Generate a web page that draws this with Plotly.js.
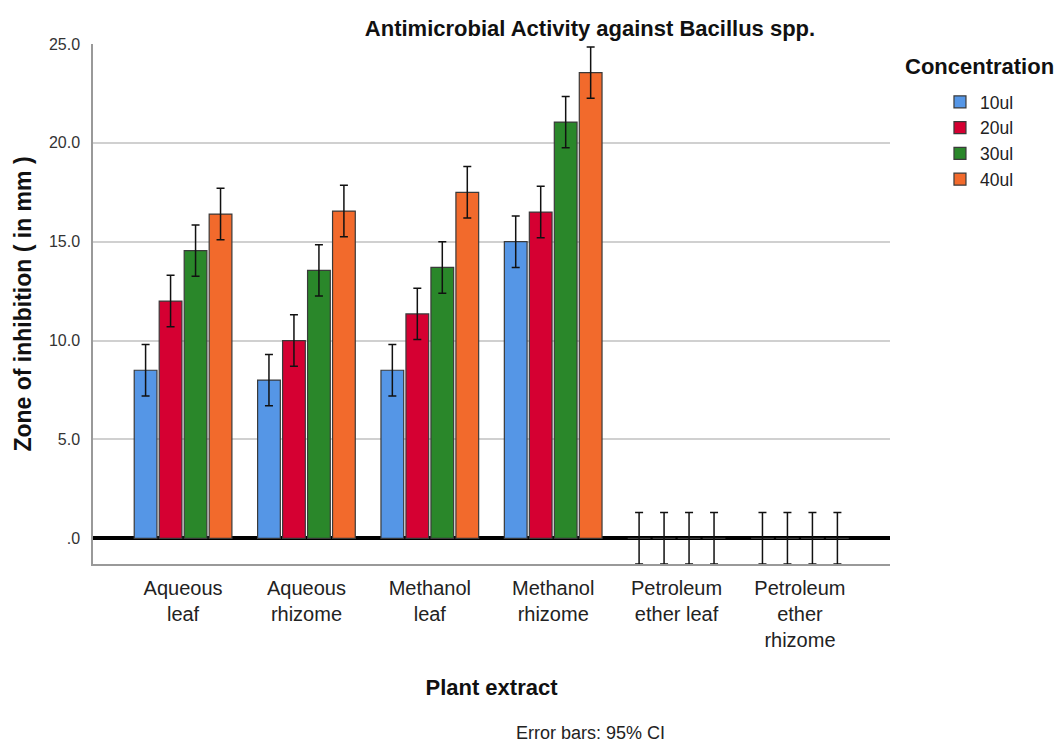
<!DOCTYPE html>
<html>
<head>
<meta charset="utf-8">
<script src="https://cdn.plot.ly/plotly-3.0.1.min.js"></script>
<style>html,body{margin:0;padding:0;background:#fff;}#chart{width:1059px;height:742px;}</style>
</head>
<body>
<div id="chart"></div>
<script>
// ---- data ----
const categories = ["Aqueous<br>leaf", "Aqueous<br>rhizome", "Methanol<br>leaf", "Methanol<br>rhizome", "Petroleum<br>ether leaf", "Petroleum<br>ether<br>rhizome"];
const seriesNames = ["10ul", "20ul", "30ul", "40ul"];
const values10 = [8.5, 8.0, 8.5, 15.0, 0, 0];
const values20 = [12.0, 10.0, 11.35, 16.5, 0, 0];
const values30 = [14.55, 13.55, 13.7, 21.05, 0, 0];
const values40 = [16.4, 16.55, 17.5, 23.55, 0, 0];
const ci10 = [1.3, 1.3, 1.3, 1.3, 1.3, 1.3];
const ci20 = [1.3, 1.3, 1.3, 1.3, 1.3, 1.3];
const ci30 = [1.3, 1.3, 1.3, 1.3, 1.3, 1.3];
const ci40 = [1.3, 1.3, 1.3, 1.3, 1.3, 1.3];
const yTickVals = [0, 5, 10, 15, 20, 25];
const yTickText = [".0", "5.0", "10.0", "15.0", "20.0", "25.0"];

const colors = ["#5596E6", "#D50032", "#2A872A", "#F26A2C"];
const allValues = [values10, values20, values30, values40];
const allCI = [ci10, ci20, ci30, ci40];

const FONT = "Liberation Sans, Arial, sans-serif";

const traces = seriesNames.map((name, i) => ({
  type: "bar",
  name: name,
  x: categories,
  y: allValues[i],
  marker: { color: colors[i], line: { color: "#3a3a3a", width: 1.2 } },
  error_y: { type: "data", array: allCI[i], visible: true, color: "#111", thickness: 1.5, width: 4 },
  hoverinfo: "x+y+name"
}));

const layout = {
  width: 1059,
  height: 742,
  margin: { l: 93, r: 169, t: 44, b: 178 },
  paper_bgcolor: "#fff",
  plot_bgcolor: "#fff",
  font: { family: FONT, color: "#222" },
  barmode: "group",
  bargap: 0.19,
  bargroupgap: 0.09,
  title: {
    text: "<b>Antimicrobial Activity against Bacillus spp.</b>",
    font: { family: FONT, size: 22, color: "#111" },
    xref: "paper", x: 0.6236, xanchor: "center",
    yref: "container", y: 0.962, yanchor: "middle"
  },
  xaxis: {
    type: "category",
    range: [-0.73, 5.73],
    showgrid: false,
    showline: true, linecolor: "#999", linewidth: 1.5,
    ticks: "outside", ticklen: 0, tickcolor: "rgba(0,0,0,0)",
    ticklabelstandoff: 5,
    tickfont: { family: FONT, size: 20, color: "#222" },
    title: { text: "<b>Plant extract</b>", font: { family: FONT, size: 22, color: "#111" }, standoff: 30 },
    fixedrange: true
  },
  yaxis: {
    range: [-1.3, 25],
    tickvals: yTickVals,
    ticktext: yTickText,
    showgrid: true, gridcolor: "#d0d0d0", gridwidth: 1.5,
    zeroline: true, zerolinecolor: "#000", zerolinewidth: 4,
    showline: true, linecolor: "#999", linewidth: 1.5,
    ticks: "outside", ticklen: 0, tickcolor: "rgba(0,0,0,0)",
    ticklabelstandoff: 8,
    tickfont: { family: FONT, size: 16, color: "#333" },
    title: { text: "<b>Zone of inhibition ( in mm )</b>", font: { family: FONT, size: 23, color: "#111" }, standoff: 11 },
    fixedrange: true
  },
  showlegend: true,
  legend: {
    x: 1.0627, xanchor: "left",
    y: 0.923, yanchor: "top",
    font: { family: FONT, size: 17.5, color: "#222" },
    bgcolor: "rgba(0,0,0,0)",
    traceorder: "normal",
    itemclick: false, itemdoubleclick: false
  },
  annotations: [
    {
      text: "<b>Concentration</b>",
      xref: "paper", yref: "paper",
      x: (980 - 93) / 797, y: 1 - (67 - 44) / 520,
      xanchor: "center", yanchor: "middle",
      showarrow: false,
      font: { family: FONT, size: 22, color: "#111" }
    },
    {
      text: "Error bars: 95% CI",
      xref: "paper", yref: "paper",
      x: 0.6236, y: (564 - 733) / 520,
      xanchor: "center", yanchor: "middle",
      showarrow: false,
      font: { family: FONT, size: 18, color: "#222" }
    }
  ]
};

Plotly.newPlot("chart", traces, layout, { displayModeBar: false, staticPlot: false });
</script>
</body>
</html>
